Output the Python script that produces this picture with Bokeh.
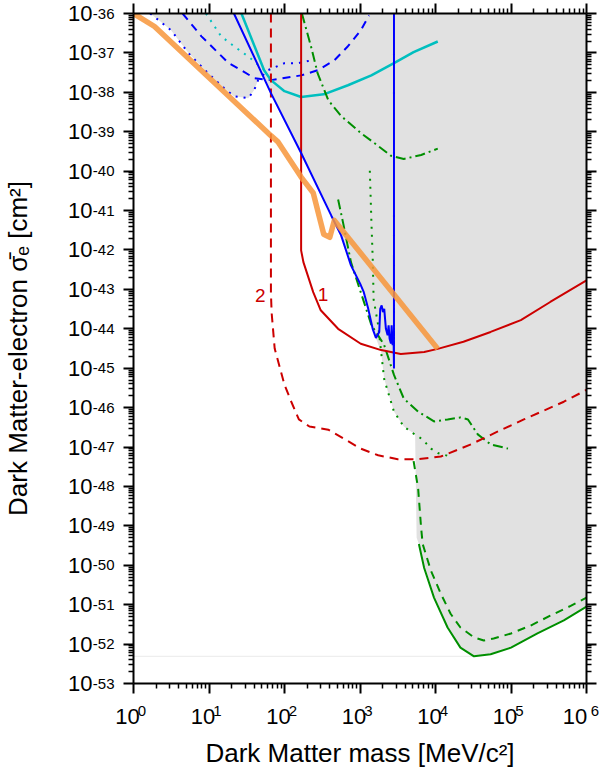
from bokeh.plotting import figure
from bokeh.models import LogAxis, FixedTicker, Label, CustomJSTickFormatter, CustomLabelingPolicy
from bokeh.embed import file_html
from bokeh.resources import INLINE

# ---------------- data (mass in MeV/c^2, cross-section in cm^2) ----------------
orange_x = [1, 1.9, 66.1, 81.3, 166, 240, 331, 398, 457, 10715]
orange_y = [1e-36, 4.68e-37, 7.94e-40, 5.62e-40, 7.08e-41, 2.82e-41, 2.51e-42, 2.09e-42, 5.62e-42, 3.09e-45]

red1_x = [166, 166, 178, 240, 302, 513, 1023, 1905, 3467, 7079, 10715, 23442, 53703, 1.35e5, 3.31e5, 1e6]
red1_y = [1e-36, 9.77e-43, 4.9e-43, 8.51e-44, 2.95e-44, 1e-44, 4.17e-45, 2.88e-45, 2.29e-45, 2.57e-45,
          3.09e-45, 4.68e-45, 8.32e-45, 1.66e-44, 4.79e-44, 1.7e-43]

red2_x = [66.1, 66.1, 67.6, 74.1, 100, 123, 155, 214, 380, 1023, 1738, 3162, 5888, 11749, 29512, 66069,
          1.48e5, 5.01e5, 1e6]
red2_y = [1e-36, 7.94e-44, 2.51e-44, 3.16e-45, 3.8e-46, 1.41e-46, 5.01e-47, 3.31e-47, 2.75e-47, 9.12e-48,
          6.17e-48, 4.9e-48, 4.9e-48, 5.75e-48, 1.17e-47, 2.45e-47, 5.01e-47, 1.41e-46, 2.82e-46]

blue_x = [21.4, 66.1, 166, 417, 562, 759, 1023, 1122, 1288, 1472, 1626, 1799, 1854, 1936, 2014, 2094,
          2203, 2323, 2393, 2466, 2570, 2624, 2704, 2786, 2818, 2818]
blue_y = [1e-36, 9.55e-39, 2.88e-40, 7.41e-42, 2.34e-42, 4.07e-43, 1.29e-43, 8.51e-44, 3.16e-44, 1e-44,
          5.86e-45, 8.3e-45, 3.21e-44, 3.92e-44, 2.65e-44, 3.21e-44, 1e-44, 6.85e-45, 1.22e-44, 5.62e-45,
          4.21e-45, 1.22e-44, 3.83e-45, 5.62e-45, 9.82e-46, 1e-36]

blue_dot_x = [1.66, 2.19, 3.16, 5.37, 9.77, 15.8, 21.4, 33.1, 39.8, 44.7, 60.3, 100, 151, 224]
blue_dot_y = [1e-36, 6.61e-37, 3.72e-37, 9.77e-38, 3.02e-38, 1.29e-38, 7.94e-39, 7.08e-39, 1.15e-38,
              2.04e-38, 3.63e-38, 5.5e-38, 5.5e-38, 6.46e-38]

blue_dash_x = [4.47, 7.94, 18.2, 26.9, 39.8, 66.1, 166, 275, 457, 692, 1023, 1318]
blue_dash_y = [1e-36, 2.63e-37, 5.5e-38, 3.63e-38, 2.29e-38, 2.04e-38, 2.69e-38, 3.63e-38, 6.46e-38,
               1.48e-37, 3.72e-37, 8.91e-37]

cyan_x = [26.9, 53.7, 66.1, 100, 166, 331, 692, 1413, 2818, 5129, 10715]
cyan_y = [1e-36, 3.63e-38, 2.04e-38, 1.07e-38, 7.59e-39, 8.91e-39, 1.51e-38, 2.69e-38, 5.5e-38, 1.05e-37, 1.95e-37]

cyan_dot_x = [9.12, 14.5, 21.4, 33.1, 52.5]
cyan_dot_y = [1e-36, 2.63e-37, 1.48e-37, 8.13e-38, 3.89e-38]

green_dd_up_x = [170, 224, 275, 380, 562, 1023, 1738, 2570, 3802, 6457, 10715]
green_dd_up_y = [1e-36, 1.48e-37, 3.02e-38, 6.31e-39, 2.51e-39, 9.33e-40, 4.37e-40, 2.45e-40, 2.04e-40,
                 2.57e-40, 3.72e-40]

green_dd_lo_x = [513, 603, 759, 1023, 1413, 2089, 2818, 3802, 5888, 9550, 14454, 21380, 26915, 36308,
                 53703, 91201]
green_dd_lo_y = [1.91e-41, 4.47e-42, 4.9e-43, 8.51e-44, 1.26e-44, 3.89e-45, 6.76e-46, 1.7e-46, 7.94e-47,
                 4.47e-47, 5.01e-47, 5.62e-47, 5.01e-47, 2.09e-47, 1.17e-47, 9.12e-48]

green_dot_x = [1349, 1413, 1479, 1514, 1738, 1905, 2089, 2344, 2818, 3802, 5129, 6761, 8710, 10965, 15849]
green_dot_y = [1.02e-40, 5.89e-42, 4.9e-43, 5.62e-44, 1.26e-44, 2.57e-45, 5.37e-46, 2.51e-46, 7.94e-47,
               3.31e-47, 2.19e-47, 1.55e-47, 9.12e-48, 6.92e-48, 5.75e-48]

green_dash_x = [5129, 5888, 6457, 6761, 8710, 11749, 15849, 21380, 32359, 43652, 58884, 1e5, 1.82e5,
                3.31e5, 6.17e5, 1e6]
green_dash_y = [4.37e-48, 8.91e-49, 8.71e-50, 3.47e-50, 7.24e-51, 1.91e-51, 5.89e-52, 2.63e-52, 1.48e-52,
                1.23e-52, 1.38e-52, 1.86e-52, 2.95e-52, 5.25e-52, 9.33e-52, 1.51e-51]

green_x = [6026, 7079, 9550, 14454, 21380, 32359, 53703, 1e5, 2.24e5, 5.01e5, 1e6]
green_y = [3.47e-50, 8.51e-51, 1.51e-51, 2.63e-52, 8.13e-53, 4.9e-53, 5.5e-53, 8.13e-53, 1.86e-52,
           3.98e-52, 8.91e-52]

# excluded (shaded) region outline
gray_x = [1.66, 2.19, 3.16, 5.37, 9.77, 15.8, 21.4, 33.1, 39.8, 44.7, 51.3,
          66.1, 166, 417, 562, 759, 1023, 1122, 1288, 1514,
          1905, 2089, 2344, 2818, 3802, 5129, 5370, 5623,
          6026, 7079, 9550, 14454, 21380, 32359, 53703, 1e5, 2.24e5, 5.01e5, 1e6, 1e6]
gray_y = [1e-36, 6.61e-37, 3.72e-37, 9.77e-38, 3.02e-38, 1.29e-38, 7.94e-39, 7.08e-39, 1.15e-38, 2.04e-38, 2.69e-38,
          9.55e-39, 2.88e-40, 7.41e-42, 2.34e-42, 4.07e-43, 1.29e-43, 8.51e-44, 3.16e-44, 8.32e-45,
          2.57e-45, 5.37e-46, 2.51e-46, 7.94e-47, 3.31e-47, 2.19e-47, 2.0e-47, 5.0e-50,
          3.47e-50, 8.51e-51, 1.51e-51, 2.63e-52, 8.13e-53, 4.9e-53, 5.5e-53, 8.13e-53, 1.86e-52,
          3.98e-52, 8.91e-52, 1e-36]

floor_x = [1, 32359]
floor_y = [4.9e-53, 4.9e-53]

x_exponents = [0, 1, 2, 3, 4, 5, 6]
x_tick_exp_labels = ["0", "1", "2", "3", "4", "5", "6"]
y_exponents = list(range(-53, -35))
y_tick_exp_labels = ["-53", "-52", "-51", "-50", "-49", "-48", "-47", "-46", "-45",
                     "-44", "-43", "-42", "-41", "-40", "-39", "-38", "-37", "-36"]
tick_base = "10"

label_text = ["1", "2"]
label_x = [324, 47.6]
label_y = [7.6e-44, 6.8e-44]

# ---------------- figure ----------------
FONT = "Liberation Sans"
RED = "#cc0000"
BLUE = "#0000ff"
CYAN = "#00bfbf"
GREEN = "#008f00"
ORANGE = "#f7953a"
NB = "\u00a0"

p = figure(width=599, height=771, x_axis_type="log", y_axis_type="log",
           x_range=(1, 1e6), y_range=(1e-53, 1e-36),
           output_backend="svg", toolbar_location=None,
           min_border_left=132, min_border_right=13, min_border_top=13, min_border_bottom=88)
p.grid.visible = False
p.outline_line_color = None
p.background_fill_color = "white"

bottom = p.below[0]
left = p.left[0]

x_major = [float(f"1e{k}") for k in x_exponents]
x_minor = [float(f"{m}e{k}") for k in x_exponents[:-1] for m in range(2, 10)]
y_major = [float(f"1e{k}") for k in y_exponents]
y_minor = [float(f"{m}e{k}") for k in y_exponents[:-1] for m in range(2, 10)]

# shaded region + faint floor line
p.patch(gray_x, gray_y, fill_color="#e1e1e1", line_color=None)
p.line(floor_x, floor_y, line_color="#eaeaea", line_width=1)

# curves
p.line(blue_dot_x, blue_dot_y, line_color=BLUE, line_width=2, line_dash="2 6")
p.line(blue_dash_x, blue_dash_y, line_color=BLUE, line_width=2, line_dash="8 6")
p.line(cyan_dot_x, cyan_dot_y, line_color=CYAN, line_width=2, line_dash="2 6")
p.line(cyan_x, cyan_y, line_color=CYAN, line_width=2.5)
p.line(green_dd_up_x, green_dd_up_y, line_color=GREEN, line_width=2, line_dash="10 4 2 4")
p.line(green_dd_lo_x, green_dd_lo_y, line_color=GREEN, line_width=2, line_dash="10 4 2 4")
p.line(green_dot_x, green_dot_y, line_color=GREEN, line_width=2, line_dash="2 6")
p.line(green_dash_x, green_dash_y, line_color=GREEN, line_width=2, line_dash="8 6")
p.line(green_x, green_y, line_color=GREEN, line_width=2)
p.line(red2_x, red2_y, line_color=RED, line_width=2, line_dash="9 6")
p.line(red1_x, red1_y, line_color=RED, line_width=2)
p.line(blue_x, blue_y, line_color=BLUE, line_width=2)
p.line(orange_x, orange_y, line_color=ORANGE, line_width=5.5, line_alpha=0.85, line_join="round")

for t, lx, ly in zip(label_text, label_x, label_y):
    p.add_layout(Label(x=lx, y=ly, text=t, text_color=RED, text_font=FONT, text_font_size="19px",
                       text_align="center", text_baseline="middle"))

# ---------------- axes ----------------
top = LogAxis()
right = LogAxis()
x_ten = LogAxis()     # second row under the x axis: the "10" of each tick label
y_ten = LogAxis()     # second column left of the y axis: the "10" of each tick label
p.add_layout(top, "above")
p.add_layout(right, "right")
p.add_layout(x_ten, "below")
p.add_layout(y_ten, "left")

no_labels = CustomJSTickFormatter(code="return ''")
no_policy = CustomLabelingPolicy(code="return new Set()")

x_exp_fmt = CustomJSTickFormatter(
    args=dict(exps=x_exponents, labels=[NB * 4 + s for s in x_tick_exp_labels]),
    code="const k = Math.round(Math.log10(tick)); return labels[exps.indexOf(k)];")
y_exp_fmt = CustomJSTickFormatter(
    args=dict(exps=y_exponents, labels=y_tick_exp_labels),
    code="const k = Math.round(Math.log10(tick)); return labels[exps.indexOf(k)];")
x_ten_fmt = CustomJSTickFormatter(args=dict(base=tick_base + NB * 2), code="return base;")
y_ten_fmt = CustomJSTickFormatter(args=dict(base=tick_base), code="return base;")

for ax in [bottom, top, x_ten]:
    ax.ticker = FixedTicker(ticks=x_major, minor_ticks=x_minor)
for ax in [left, right, y_ten]:
    ax.ticker = FixedTicker(ticks=y_major, minor_ticks=y_minor)

for ax in [bottom, left, top, right, x_ten, y_ten]:
    ax.axis_line_width = 2
    ax.axis_line_color = "black"
    ax.major_tick_line_width = 2
    ax.minor_tick_line_width = 1.5
    ax.major_tick_out = 10
    ax.major_tick_in = 0
    ax.minor_tick_out = 5
    ax.minor_tick_in = 0
    ax.major_label_text_font = FONT
    ax.major_label_text_color = "black"
    ax.axis_label_text_font = FONT
    ax.axis_label_text_font_size = "26px"
    ax.axis_label_text_font_style = "normal"
    ax.axis_label_text_color = "black"

for ax in [top, right]:
    ax.formatter = no_labels
    ax.major_label_policy = no_policy
    ax.major_label_standoff = 0

# helper rows: labels only, no rule or ticks
for ax in [x_ten, y_ten]:
    ax.axis_line_color = None
    ax.major_tick_line_color = None
    ax.minor_tick_line_color = None
    ax.major_tick_out = 0
    ax.minor_tick_out = 0
    ax.major_label_text_font_size = "22px"

bottom.formatter = x_exp_fmt
left.formatter = y_exp_fmt
bottom.major_label_text_font_size = "15px"
left.major_label_text_font_size = "15px"
bottom.major_label_standoff = 8
left.major_label_standoff = 9

x_ten.formatter = x_ten_fmt
y_ten.formatter = y_ten_fmt
x_ten.major_label_standoff = -18
y_ten.major_label_standoff = -3

x_ten.axis_label = "Dark Matter mass [MeV/c²]"
y_ten.axis_label = "Dark Matter-electron σ\u0304\u2091 [cm²]"
x_ten.axis_label_standoff = 6
y_ten.axis_label_standoff = 32

open("out.html", "w").write(file_html(p, INLINE))
